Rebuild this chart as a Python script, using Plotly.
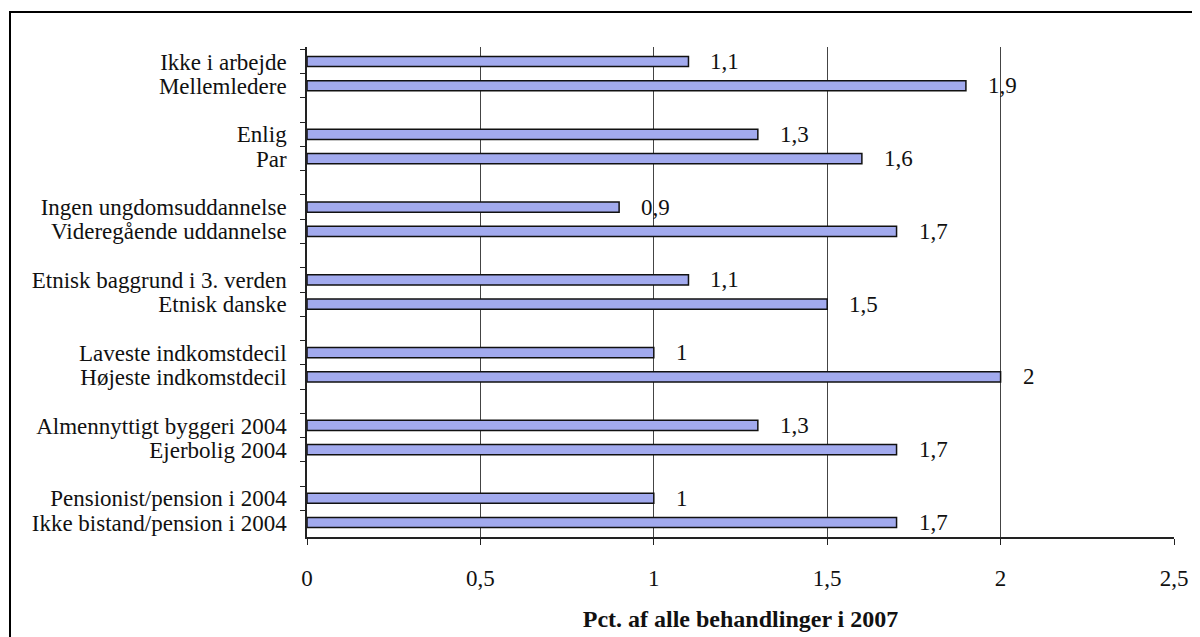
import plotly.graph_objects as go

categories = [
    "Ikke i arbejde", "Mellemledere", " ",
    "Enlig", "Par", "  ",
    "Ingen ungdomsuddannelse", "Videregående uddannelse", "   ",
    "Etnisk baggrund i 3. verden", "Etnisk danske", "    ",
    "Laveste indkomstdecil", "Højeste indkomstdecil", "     ",
    "Almennyttigt byggeri 2004", "Ejerbolig 2004", "      ",
    "Pensionist/pension i 2004", "Ikke bistand/pension i 2004",
]
values = [1.1, 1.9, None, 1.3, 1.6, None, 0.9, 1.7, None, 1.1, 1.5, None,
          1.0, 2.0, None, 1.3, 1.7, None, 1.0, 1.7]
labels = ["1,1", "1,9", "", "1,3", "1,6", "", "0,9", "1,7", "", "1,1", "1,5", "",
          "1", "2", "", "1,3", "1,7", "", "1", "1,7"]
x_ticks = [0, 0.5, 1, 1.5, 2, 2.5]
x_tick_labels = ["0", "0,5", "1", "1,5", "2", "2,5"]
x_title = "Pct. af alle behandlinger i 2007"

FONT = "Liberation Serif"
FS = 23

fig = go.Figure()
fig.add_trace(go.Bar(
    y=categories, x=values, orientation="h", width=0.42,
    marker=dict(color="#a2aaee", line=dict(color="#111111", width=1.5)),
    hoverinfo="skip",
))

for c, v, t in zip(categories, values, labels):
    if v is None:
        continue
    fig.add_annotation(x=v, y=c, text=t, showarrow=False, xanchor="left",
                       xshift=20, font=dict(family=FONT, size=FS, color="#111"))

# page body has an 8px offset
OFF = 8
W, H = 1200, 637
L, R, T, B = 307 - OFF, 26 + OFF, 47 - OFF, 100 + OFF
pw, ph = W - L - R, H - T - B
plot_bottom = T + ph
fig.add_shape(type="rect", xref="paper", yref="paper",
              x0=(10 - OFF - L) / pw, x1=(1215 - OFF - L) / pw,
              y0=-(H + 10 - plot_bottom) / ph, y1=(plot_bottom - (12 - OFF)) / ph,
              line=dict(color="black", width=2), fillcolor="rgba(0,0,0,0)")

fig.update_layout(
    width=W, height=H,
    margin=dict(l=L, r=R, t=T, b=B),
    paper_bgcolor="white", plot_bgcolor="white",
    showlegend=False,
    font=dict(family=FONT, size=FS, color="#111"),
    xaxis=dict(
        range=[0, 2.5], tickvals=x_ticks, ticktext=x_tick_labels,
        showgrid=True, gridcolor="#444", gridwidth=1,
        showline=True, linecolor="#222", linewidth=1.5,
        ticks="outside", ticklen=6, tickcolor="#222",
        zeroline=False, ticklabelstandoff=14,
        title=dict(text="<b>" + x_title + "</b>",
                   font=dict(family=FONT, size=24), standoff=20),
        tickfont=dict(family=FONT, size=FS),
    ),
    yaxis=dict(
        categoryorder="array", categoryarray=categories, autorange="reversed",
        tickmode="linear", tick0=0, dtick=1,
        showline=True, linecolor="#222", linewidth=1.5,
        ticks="outside", ticklen=5, tickcolor="#222", tickson="boundaries",
        showgrid=False, ticklabelstandoff=14,
        tickfont=dict(family=FONT, size=FS),
    ),
)

fig.write_html("out.html")
